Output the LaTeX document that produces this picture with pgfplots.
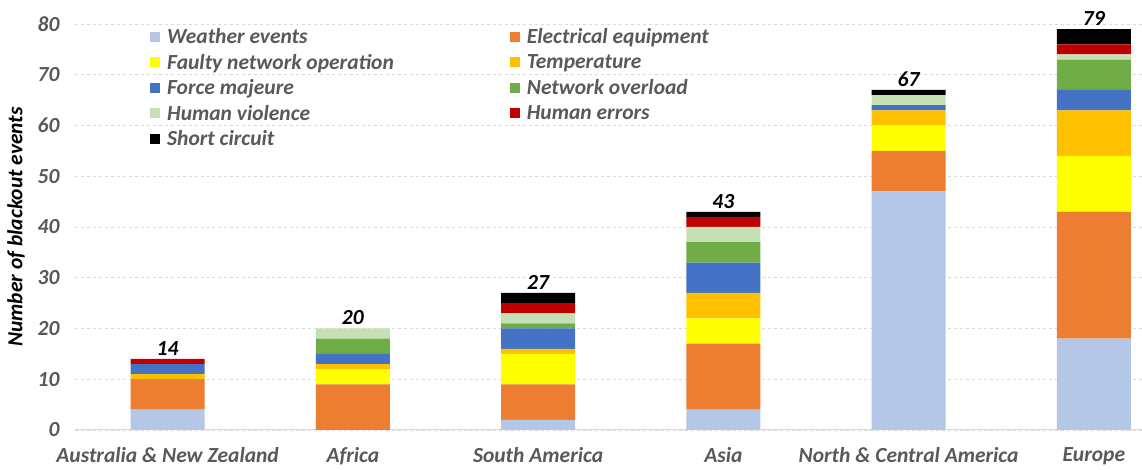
\documentclass[border=0pt]{standalone}
\usepackage{fontspec}
\setmainfont{Carlito}
\usepackage{pgfplots}
\usepackage{pgfplotstable}
\pgfplotsset{compat=1.18}
\definecolor{cW}{HTML}{B4C7E7}
\definecolor{cE}{HTML}{ED7D31}
\definecolor{cF}{HTML}{FFFF00}
\definecolor{cT}{HTML}{FFC000}
\definecolor{cFM}{HTML}{4472C4}
\definecolor{cNO}{HTML}{70AD47}
\definecolor{cHV}{HTML}{C5E0B4}
\definecolor{cHE}{HTML}{C00000}
\definecolor{cSC}{HTML}{000000}
\definecolor{txt}{HTML}{595959}
\definecolor{grd}{HTML}{D9D9D9}
\pgfplotstableread{
x W E F T FM NO HV HE SC total
0 4 6 0 1 2 0 0 1 0 14
1 0 9 3 1 2 3 2 0 0 20
2 2 7 6 1 4 1 2 2 2 27
3 4 13 5 5 6 4 3 2 1 43
4 47 8 5 3 1 0 2 0 1 67
5 18 25 11 9 4 6 1 2 3 79
}\data
\pgfplotsset{common/.style={
  scale only axis,
  width=1067bp, height=406bp,
  bar width=74bp,
  xmin=-0.5, xmax=5.26,
  ymin=0, ymax=80,
  /pgf/number format/assume math mode=true,
}}
\begin{document}
\begin{tikzpicture}
\begin{axis}[
  common,
  ybar stacked,
  ytick={0,10,...,80},
  xtick={0,...,5},
  xticklabels={Australia \& New Zealand, Africa, South America, Asia, North \& Central America, Europe},
  font=\fontsize{21.5bp}{25bp}\selectfont\bfseries\itshape,
  ticklabel style={text=txt},
  xticklabel style={yshift=-14bp},
  yticklabel style={xshift=-12bp},
  major tick length=0pt,
  axis line style={draw=none},
  ymajorgrids,
  grid style={dashed, grd, line width=0.6bp},
  extra y ticks={0},
  extra y tick labels={},
  extra y tick style={grid style={solid, grd, line width=1bp}},
  ylabel={Number of blackout events},
  ylabel style={text=txt, font=\fontsize{21.5bp}{25bp}\selectfont\bfseries\itshape},
  every axis y label/.style={at={(axis description cs:0,0.5)}, rotate=90, anchor=center, yshift=59bp},
  legend columns=2,
  legend image code/.code={\path[draw=none, fill=none] (0bp,-12.75bp) rectangle (15bp,12.75bp); \fill[#1] (0bp,-5bp) rectangle (10bp,5bp);},
  legend style={at={(0.0703,1.0)}, anchor=north west, draw=none, fill=none,
    inner sep=0pt, text=txt, row sep=0bp,
    font=\fontsize{21.5bp}{25bp}\selectfont\bfseries\itshape,
    cells={anchor=west},
    /tikz/every even column/.append style={column sep=114bp}},
]
\addplot[fill=cW, draw=none] table[x=x, y=W] {\data};
\addlegendentry{Weather events}
\addplot[fill=cE, draw=none] table[x=x, y=E] {\data};
\addlegendentry{Electrical equipment}
\addplot[fill=cF, draw=none] table[x=x, y=F] {\data};
\addlegendentry{Faulty network operation}
\addplot[fill=cT, draw=none] table[x=x, y=T] {\data};
\addlegendentry{Temperature}
\addplot[fill=cFM, draw=none] table[x=x, y=FM] {\data};
\addlegendentry{Force majeure}
\addplot[fill=cNO, draw=none] table[x=x, y=NO] {\data};
\addlegendentry{Network overload}
\addplot[fill=cHV, draw=none] table[x=x, y=HV] {\data};
\addlegendentry{Human violence}
\addplot[fill=cHE, draw=none] table[x=x, y=HE] {\data};
\addlegendentry{Human errors}
\addplot[fill=cSC, draw=none] table[x=x, y=SC] {\data};
\addlegendentry{Short circuit}
\end{axis}
\begin{axis}[
  common,
  ybar,
  hide axis,
  nodes near coords,
  nodes near coords style={font=\fontsize{21.5bp}{25bp}\selectfont\bfseries\itshape, text=black},
]
\addplot[draw=none, fill=none] table[x=x, y=total] {\data};
\end{axis}
\pgfresetboundingbox
\path[use as bounding box] ([xshift=-75bp, yshift=-40bp]current axis.south west) rectangle ([yshift=24bp]current axis.north east);
\end{tikzpicture}
\end{document}
